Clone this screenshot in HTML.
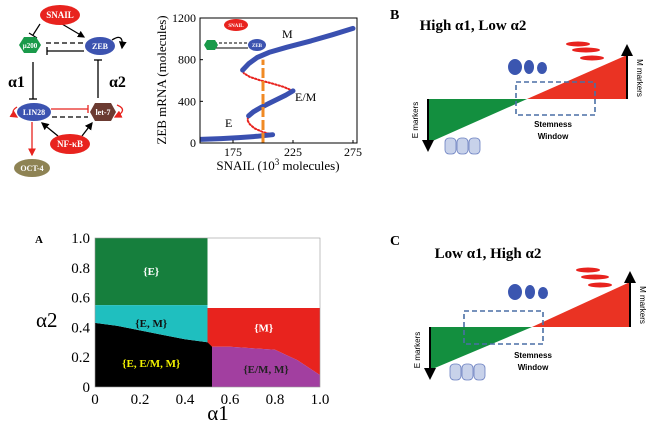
<!DOCTYPE html>
<html><head><meta charset="utf-8"><style>
html,body{margin:0;padding:0;background:#fff;}
svg{display:block;font-family:"Liberation Serif",serif;}
.sans{font-family:"Liberation Sans",sans-serif;}
</style></head><body>
<svg id="fig" width="650" height="434" viewBox="0 0 650 434" xmlns="http://www.w3.org/2000/svg">
<defs>
<marker id="ah" markerWidth="6" markerHeight="6" refX="5" refY="3" orient="auto"><path d="M0,0 L6,3 L0,6 z" fill="#000"/></marker>
<marker id="ahr" markerWidth="6" markerHeight="6" refX="5" refY="3" orient="auto"><path d="M0,0 L6,3 L0,6 z" fill="#e8231e"/></marker>
</defs>

<g font-weight="bold" font-size="9">
<line x1="40" y1="24" x2="33" y2="35" stroke="#000" stroke-width="1.2"/><line x1="29" y1="33" x2="37" y2="38" stroke="#000" stroke-width="1.2"/>
<line x1="62" y1="24" x2="84" y2="37" stroke="#000" stroke-width="1.2" marker-end="url(#ah)"/>
<line x1="46" y1="43" x2="84" y2="43" stroke="#000" stroke-width="1.3" stroke-dasharray="5,3"/>
<line x1="47" y1="51" x2="84" y2="51" stroke="#000" stroke-width="1.3"/><line x1="47" y1="47" x2="47" y2="55" stroke="#000" stroke-width="1.3"/>
<path d="M112,40 q12,-8 10,8" fill="none" stroke="#000" stroke-width="1.3" marker-end="url(#ah)"/>
<line x1="33" y1="62" x2="33" y2="99" stroke="#000" stroke-width="1.3"/><line x1="29" y1="99" x2="37" y2="99" stroke="#000" stroke-width="1.3"/>
<line x1="98" y1="98" x2="98" y2="60" stroke="#000" stroke-width="1.3"/><line x1="94" y1="60" x2="102" y2="60" stroke="#000" stroke-width="1.3"/>
<text x="8" y="87" font-size="16">α1</text>
<text x="109" y="87" font-size="16">α2</text>
<line x1="51" y1="109" x2="88" y2="109" stroke="#e8231e" stroke-width="1.3"/><line x1="88" y1="105" x2="88" y2="113" stroke="#e8231e" stroke-width="1.3"/>
<line x1="52" y1="117" x2="88" y2="117" stroke="#000" stroke-width="1.3" stroke-dasharray="5,3"/>
<path d="M17,107 q-8,5 0,10" fill="none" stroke="#e8231e" stroke-width="1.3" marker-end="url(#ahr)"/>
<path d="M117,105 q12,5 -2,12" fill="none" stroke="#e8231e" stroke-width="1.3" marker-end="url(#ahr)"/>
<line x1="58" y1="136" x2="42" y2="123" stroke="#000" stroke-width="1.3" marker-end="url(#ah)"/>
<line x1="82" y1="136" x2="92" y2="123" stroke="#000" stroke-width="1.3" marker-end="url(#ah)"/>
<line x1="32" y1="122" x2="32" y2="155" stroke="#e8231e" stroke-width="1.3" marker-end="url(#ahr)"/>
<ellipse cx="60" cy="15" rx="20" ry="10" fill="#e8231e"/><text x="60" y="18" fill="#fff" text-anchor="middle">SNAIL</text>
<polygon points="19,45 24,37 36,37 41,45 36,53 24,53" fill="#1a9a4a"/><text x="30" y="48" fill="#fff" text-anchor="middle" font-size="7">μ200</text>
<ellipse cx="100" cy="46" rx="15" ry="9" fill="#3c53b0"/><text x="100" y="49" fill="#fff" text-anchor="middle" font-size="8">ZEB</text>
<ellipse cx="34" cy="112" rx="17" ry="9" fill="#3c53b0"/><text x="34" y="115" fill="#fff" text-anchor="middle" font-size="8">LIN28</text>
<polygon points="90,112 95,103 111,103 116,112 111,121 95,121" fill="#6b3a31"/><text x="103" y="115" fill="#fff" text-anchor="middle" font-size="8">let-7</text>
<ellipse cx="70" cy="144" rx="20" ry="10" fill="#e8231e"/><text x="70" y="147" fill="#fff" text-anchor="middle">NF-κB</text>
<ellipse cx="32" cy="168" rx="18" ry="9" fill="#8e8354"/><text x="32" y="171" fill="#fff" text-anchor="middle" font-size="8">OCT-4</text>
</g>

<g id="bif"></g>
<g id="phase"></g>

<g>
<text x="390" y="19" font-size="14" font-weight="bold">B</text>
<text x="473" y="30" font-size="15" font-weight="bold" text-anchor="middle">High α1, Low α2</text>
<polygon points="428,99 527,99 428,143" fill="#138f3f"/>
<polygon points="527,99 627,99 627,55" fill="#ea3323"/>
<line x1="428" y1="99" x2="428" y2="150" stroke="#000" stroke-width="2" marker-end="url(#ah)"/>
<line x1="627" y1="99" x2="627" y2="46" stroke="#000" stroke-width="2" marker-end="url(#ah)"/>
<rect x="516" y="82" width="79" height="33" fill="none" stroke="#4a6fa5" stroke-width="1.6" stroke-dasharray="5,3"/>
<text x="553" y="127" font-size="8" font-weight="bold" class="sans" text-anchor="middle">Stemness</text>
<text x="553" y="139" font-size="8" font-weight="bold" class="sans" text-anchor="middle">Window</text>
<text transform="translate(418,120) rotate(-90)" font-size="8" class="sans" text-anchor="middle">E markers</text>
<text transform="translate(637,78) rotate(90)" font-size="8" class="sans" text-anchor="middle">M markers</text>
<g fill="#3b56b0"><ellipse cx="515" cy="67" rx="7" ry="8"/><ellipse cx="529" cy="67" rx="5" ry="7"/><ellipse cx="542" cy="68" rx="5" ry="6"/></g>
<g fill="#e8231e"><ellipse cx="578" cy="44" rx="12" ry="2.5"/><ellipse cx="586" cy="50" rx="14" ry="2.5"/><ellipse cx="592" cy="58" rx="12" ry="2.5"/></g>
<g fill="#c8d2ea" stroke="#6a7fc0" stroke-width="0.8"><rect x="445" y="138" width="11" height="16" rx="4"/><rect x="457" y="138" width="11" height="16" rx="4"/><rect x="469" y="138" width="11" height="16" rx="4"/></g>
</g>

<g>
<text x="390" y="245" font-size="14" font-weight="bold">C</text>
<text x="488" y="258" font-size="15" font-weight="bold" text-anchor="middle">Low α1, High α2</text>
<polygon points="430,327 532,327 430,370" fill="#138f3f"/>
<polygon points="532,327 630,327 630,282" fill="#ea3323"/>
<line x1="430" y1="327" x2="430" y2="378" stroke="#000" stroke-width="2" marker-end="url(#ah)"/>
<line x1="630" y1="327" x2="630" y2="273" stroke="#000" stroke-width="2" marker-end="url(#ah)"/>
<rect x="464" y="311" width="79" height="33" fill="none" stroke="#4a6fa5" stroke-width="1.6" stroke-dasharray="5,3"/>
<text x="533" y="358" font-size="8" font-weight="bold" class="sans" text-anchor="middle">Stemness</text>
<text x="533" y="370" font-size="8" font-weight="bold" class="sans" text-anchor="middle">Window</text>
<text transform="translate(420,350) rotate(-90)" font-size="8" class="sans" text-anchor="middle">E markers</text>
<text transform="translate(640,305) rotate(90)" font-size="8" class="sans" text-anchor="middle">M markers</text>
<g fill="#3b56b0"><ellipse cx="515" cy="292" rx="7" ry="8"/><ellipse cx="530" cy="292" rx="5" ry="7"/><ellipse cx="543" cy="293" rx="5" ry="6"/></g>
<g fill="#e8231e"><ellipse cx="588" cy="270" rx="12" ry="2.5"/><ellipse cx="595" cy="277" rx="14" ry="2.5"/><ellipse cx="600" cy="285" rx="12" ry="2.5"/></g>
<g fill="#c8d2ea" stroke="#6a7fc0" stroke-width="0.8"><rect x="450" y="364" width="11" height="16" rx="4"/><rect x="462" y="364" width="11" height="16" rx="4"/><rect x="474" y="364" width="11" height="16" rx="4"/></g>
</g>
</svg>
<script>
const NS='http://www.w3.org/2000/svg';
const bifXTicks=[175,225,275];
const bifYTicks=[0,400,800,1200];
const branchE_x=[148,165,180,195,208];
const branchE_y=[35,42,52,64,80];
const unstable1_x=[208,200,193,189,187,188];
const unstable1_y=[80,105,140,180,220,260];
const branchEM_x=[188,192,198,205,212,219,225];
const branchEM_y=[260,300,340,380,420,460,500];
const unstable2_x=[225,217,208,198,189,184,183];
const unstable2_y=[500,540,570,600,635,670,700];
const branchM_x=[183,188,195,205,220,240,258,275];
const branchM_y=[700,760,820,870,920,980,1040,1100];
const snailLevel=[200];

const bx0=200,bx1=357,by0=143,by1=18;
const bxs=v=>233+(v-175)*1.2;
const bys=v=>by0-(v/1200)*(by0-by1);
function mk(tag,attrs,parent){const e=document.createElementNS(NS,tag);for(const k in attrs)e.setAttribute(k,attrs[k]);parent.appendChild(e);return e;}
const bif=document.getElementById('bif');
const clip=mk('clipPath',{id:'bclip'},bif);mk('rect',{x:bx0,y:by1,width:bx1-bx0,height:by0-by1},clip);
const sg=mk('g',{'clip-path':'url(#bclip)'},bif);
function seriesIn(xs,ys,style,name){
  const d=xs.map((x,i)=>(i?'L':'M')+bxs(x).toFixed(1)+','+bys(ys[i]).toFixed(1)).join(' ');
  const p=mk('path',Object.assign({d:d,fill:'none','stroke-linecap':'round','stroke-linejoin':'round'},style),sg);
  
  
}
seriesIn(unstable1_x,unstable1_y,{stroke:'#e8231e','stroke-width':2,'stroke-dasharray':'1.5,2'},'unstable-branch-lower');
seriesIn(unstable2_x,unstable2_y,{stroke:'#e8231e','stroke-width':2,'stroke-dasharray':'1.5,2'},'unstable-branch-upper');
seriesIn(branchE_x,branchE_y,{stroke:'#3a50b0','stroke-width':5},'stable-branch-e');
seriesIn(branchEM_x,branchEM_y,{stroke:'#3a50b0','stroke-width':5},'stable-branch-em');
seriesIn(branchM_x,branchM_y,{stroke:'#3a50b0','stroke-width':5},'stable-branch-m');
snailLevel.forEach(s=>{
  const l=mk('line',{x1:bxs(s),x2:bxs(s),y1:by0,y2:bys(800),stroke:'#f08a24','stroke-width':3,'stroke-dasharray':'10,3'},sg);
  
  
});
mk('rect',{x:bx0,y:by1,width:bx1-bx0,height:by0-by1,fill:'none',stroke:'#000','stroke-width':1},bif);
bifXTicks.forEach(t=>{mk('line',{x1:bxs(t),x2:bxs(t),y1:by0,y2:by0-3,stroke:'#000'},bif);
  const tx=mk('text',{x:bxs(t),y:by0+13,'font-size':12,'text-anchor':'middle'},bif);tx.textContent=t;
  
  });
bifYTicks.forEach(t=>{mk('line',{x1:bx0,x2:bx0+3,y1:bys(t),y2:bys(t),stroke:'#000'},bif);
  const tx=mk('text',{x:bx0-4,y:bys(t)+4,'font-size':12,'text-anchor':'end'},bif);tx.textContent=t;
  
  });
let t1=mk('text',{x:278,y:170,'font-size':13,'text-anchor':'middle'},bif);t1.innerHTML='SNAIL (10<tspan dy="-5" font-size="9">3</tspan><tspan dy="5"> molecules)</tspan>';


let t2=mk('text',{transform:'translate(166,80) rotate(-90)','font-size':13,'text-anchor':'middle'},bif);t2.textContent='ZEB mRNA (molecules)';


[['E',225,127],['E/M',295,101],['M',282,38]].forEach(a=>{const t=mk('text',{x:a[1],y:a[2],'font-size':12},bif);t.textContent=a[0];
  
  });
const ins=mk('g',{'font-size':'5','font-weight':'bold'},bif);


mk('line',{x1:214,y1:43,x2:248,y2:43,stroke:'#000','stroke-dasharray':'3,2'},ins);
mk('line',{x1:214,y1:48,x2:248,y2:48,stroke:'#000'},ins);
mk('ellipse',{cx:236,cy:25,rx:12,ry:6,fill:'#e8231e'},ins);
mk('polygon',{points:'204,45 207,40 215,40 218,45 215,50 207,50',fill:'#1a9a4a'},ins);
mk('ellipse',{cx:257,cy:45,rx:9,ry:6,fill:'#3c53b0'},ins);
let it=mk('text',{x:236,y:27,fill:'#fff','text-anchor':'middle'},ins);it.textContent='SNAIL';
it=mk('text',{x:257,y:47,fill:'#fff','text-anchor':'middle'},ins);it.textContent='ZEB';

const phaseTicks=[0,0.2,0.4,0.6,0.8,1.0];
const emBoundary_a1=[0,0.1,0.2,0.3,0.4,0.5];
const emBoundary_a2=[0.43,0.41,0.38,0.35,0.32,0.3];
const mBoundary_a1=[0.5,0.6,0.7,0.8,0.9,1.0];
const mBoundary_a2=[0.27,0.27,0.26,0.25,0.18,0.08];
const eTop=0.55, mTop=0.53, a1Split=0.5, purpleStart=0.52;

const px0=95,px1=320,py0=387,py1=238;
const pxs=v=>px0+v*(px1-px0), pys=v=>py0-v*(py0-py1);
const ph=document.getElementById('phase');
function region(pts,fill,name){const r=mk('polygon',{points:pts.map(p=>pxs(p[0]).toFixed(1)+','+pys(p[1]).toFixed(1)).join(' '),fill:fill},ph);
  
  }
region([[0,eTop],[a1Split,eTop],[a1Split,1],[0,1]],'#167f3d','region-e');
region([[0,0],[a1Split,0]].concat(emBoundary_a1.slice().reverse().map((a,i)=>[a,emBoundary_a2[emBoundary_a1.length-1-i]])),'#000','region-e-em-m');
region(emBoundary_a1.map((a,i)=>[a,emBoundary_a2[i]]).concat([[a1Split,eTop],[0,eTop]]),'#1fbfbf','region-e-m');
region(mBoundary_a1.map((a,i)=>[a,mBoundary_a2[i]]).concat([[1,mTop],[a1Split,mTop]]),'#e8231e','region-m');
region([[purpleStart,0],[1,0]].concat(mBoundary_a1.slice().reverse().map((a,i)=>[a,mBoundary_a2[mBoundary_a1.length-1-i]])).slice(0,-1).concat([[purpleStart,mBoundary_a2[0]]]),'#a23fa0','region-em-m');
region([[a1Split,0],[purpleStart,0],[purpleStart,mBoundary_a2[0]],[a1Split,emBoundary_a2[5]]],'#000','region-e-em-m-edge');
mk('rect',{x:px0,y:py1,width:px1-px0,height:py0-py1,fill:'none',stroke:'#999','stroke-width':0.6},ph);
[['{E}',0.25,0.78,'#fff'],['{E, M}',0.25,0.43,'#111'],['{M}',0.75,0.4,'#fff'],['{E, E/M, M}',0.25,0.16,'#f2f200'],['{E/M, M}',0.76,0.12,'#222']].forEach(l=>{
  const t=mk('text',{x:pxs(l[1]),y:pys(l[2])+4,'font-size':11,'font-weight':'bold','text-anchor':'middle',fill:l[3]},ph);t.textContent=l[0];
  
  });
phaseTicks.forEach(t=>{
  const lab=t===0?'0':t.toFixed(1);
  let tx=mk('text',{x:pxs(t),y:py0+17,'font-size':15,'text-anchor':'middle'},ph);tx.textContent=lab;
  
  
  tx=mk('text',{x:px0-5,y:pys(t)+5,'font-size':15,'text-anchor':'end'},ph);tx.textContent=lab;
  
  
});
let pa=mk('text',{x:35,y:243,'font-size':11,'font-weight':'bold'},ph);pa.textContent='A';


let xa=mk('text',{x:218,y:420,'font-size':21,'text-anchor':'middle'},ph);xa.textContent='α1';


let ya=mk('text',{x:36,y:327,'font-size':21},ph);ya.textContent='α2';


</script>
</body></html>
